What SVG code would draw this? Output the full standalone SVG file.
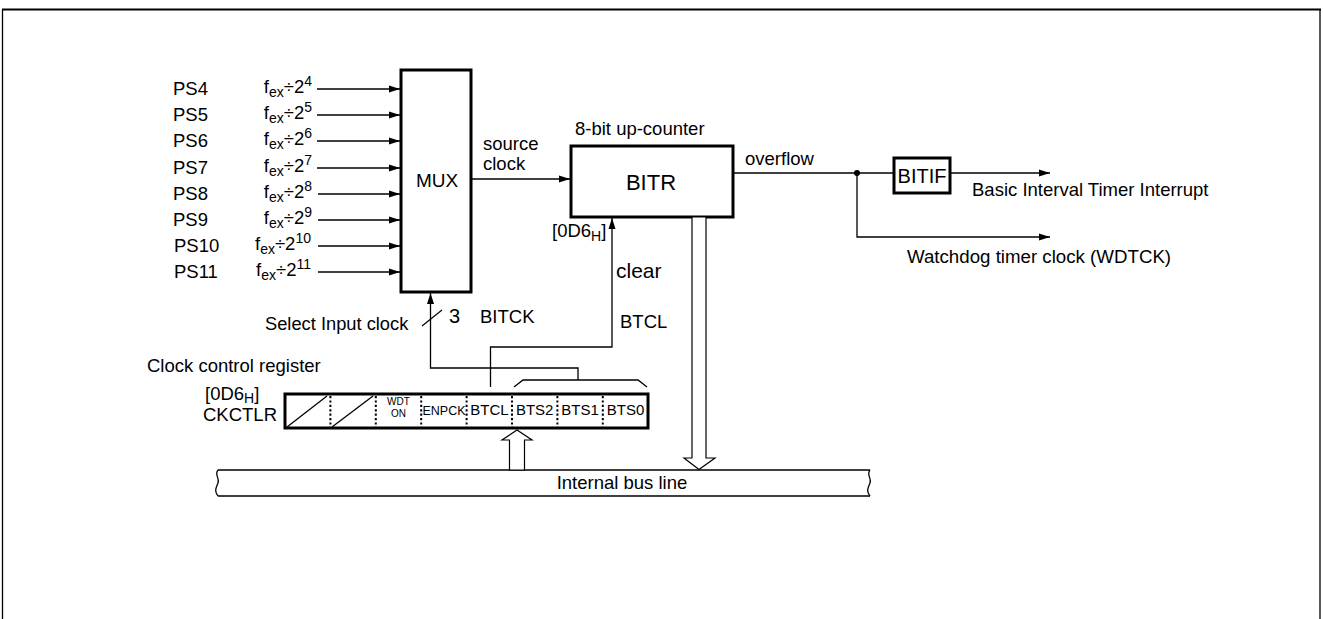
<svg xmlns="http://www.w3.org/2000/svg" width="1323" height="619" viewBox="0 0 1323 619">
<style>
text{font-family:"Liberation Sans",Arial,sans-serif;font-size:18.5px;fill:#000}
.box{fill:#fff;stroke:#000;stroke-width:3}
.ln{fill:none;stroke:#000;stroke-width:1.3}
.arr{fill:none;stroke:#000;stroke-width:1.3;marker-end:url(#ah)}
.hol{fill:#fff;stroke:#000;stroke-width:1.2}
.dot{stroke:#000;stroke-width:2;stroke-dasharray:2.2 2.2}
.sm{font-size:14px}
.reg{font-size:15px;text-anchor:middle}
.tiny{font-size:10px;text-anchor:middle}
</style>
<defs>
<marker id="ah" markerUnits="userSpaceOnUse" markerWidth="11" markerHeight="8" refX="11" refY="4" orient="auto">
<path d="M0,0.5 L11,4 L0,7.5 z" fill="#000"/>
</marker>
</defs>
<rect width="1323" height="619" fill="#fff"/>
<g id="frame">
<path d="M2.5,619 V9.5" class="ln" stroke-width="1"/>
<path d="M1320,619 V9.5" class="ln" stroke-width="1"/>
<path d="M2,9.5 H1321" fill="none" stroke="#000" stroke-width="2"/>
</g>

<g id="inputs">
<text x="173" y="95">PS4</text>
<text x="173" y="121">PS5</text>
<text x="173" y="147">PS6</text>
<text x="173" y="174">PS7</text>
<text x="173" y="200">PS8</text>
<text x="173" y="226">PS9</text>
<text x="174" y="252">PS10</text>
<text x="174" y="278">PS11</text>
<text x="312" y="93" text-anchor="end">f<tspan dy="4" class="sm">ex</tspan><tspan dy="-4">÷2</tspan><tspan dy="-7" class="sm">4</tspan></text>
<text x="312" y="119" text-anchor="end">f<tspan dy="4" class="sm">ex</tspan><tspan dy="-4">÷2</tspan><tspan dy="-7" class="sm">5</tspan></text>
<text x="312" y="145" text-anchor="end">f<tspan dy="4" class="sm">ex</tspan><tspan dy="-4">÷2</tspan><tspan dy="-7" class="sm">6</tspan></text>
<text x="312" y="172" text-anchor="end">f<tspan dy="4" class="sm">ex</tspan><tspan dy="-4">÷2</tspan><tspan dy="-7" class="sm">7</tspan></text>
<text x="312" y="198" text-anchor="end">f<tspan dy="4" class="sm">ex</tspan><tspan dy="-4">÷2</tspan><tspan dy="-7" class="sm">8</tspan></text>
<text x="312" y="224" text-anchor="end">f<tspan dy="4" class="sm">ex</tspan><tspan dy="-4">÷2</tspan><tspan dy="-7" class="sm">9</tspan></text>
<text x="311" y="250" text-anchor="end">f<tspan dy="4" class="sm">ex</tspan><tspan dy="-4">÷2</tspan><tspan dy="-7" class="sm">10</tspan></text>
<text x="311" y="276" text-anchor="end">f<tspan dy="4" class="sm">ex</tspan><tspan dy="-4">÷2</tspan><tspan dy="-7" class="sm">11</tspan></text>
</g>

<g id="mux">
<rect class="box" x="401" y="70" width="70" height="222"/>
<text x="437" y="187" text-anchor="middle" style="font-size:19px">MUX</text>
</g>

<g id="bitr">
<rect class="box" x="571" y="146" width="162" height="71"/>
<text x="651" y="190" text-anchor="middle" style="font-size:22px">BITR</text>
<text x="575" y="135">8-bit up-counter</text>
<text x="552" y="237">[0D6<tspan dy="4" class="sm">H</tspan><tspan dy="-4">]</tspan></text>
</g>

<g id="bitif">
<rect class="box" x="894" y="158" width="56" height="35"/>
<text x="922" y="183" text-anchor="middle" style="font-size:20px">BITIF</text>
</g>

<g id="ckctlr">
<text x="147" y="372">Clock control register</text>
<text x="205" y="400">[0D6<tspan dy="3" class="sm">H</tspan><tspan dy="-3">]</tspan></text>
<text x="203" y="421">CKCTLR</text>
<rect class="box" x="285" y="394" width="363" height="34"/>
<line class="ln" x1="287" y1="427" x2="327" y2="396"/>
<line class="ln" x1="332" y1="427" x2="373" y2="396"/>
<line class="dot" x1="330.4" y1="396" x2="330.4" y2="427"/>
<line class="dot" x1="375.8" y1="396" x2="375.8" y2="427"/>
<line class="dot" x1="421.2" y1="396" x2="421.2" y2="427"/>
<line class="dot" x1="466.6" y1="396" x2="466.6" y2="427"/>
<line class="dot" x1="512" y1="396" x2="512" y2="427"/>
<line class="dot" x1="557.4" y1="396" x2="557.4" y2="427"/>
<line class="dot" x1="602.8" y1="396" x2="602.8" y2="427"/>
<text class="tiny" x="398.5" y="405">WDT</text>
<text class="tiny" x="398.5" y="416.5">ON</text>
<text class="reg" x="444" y="415" style="font-size:13px" textLength="43" lengthAdjust="spacingAndGlyphs">ENPCK</text>
<text class="reg" x="489.5" y="415">BTCL</text>
<text class="reg" x="534.7" y="415">BTS2</text>
<text class="reg" x="580.1" y="415">BTS1</text>
<text class="reg" x="625.5" y="415">BTS0</text>
</g>

<g id="bus">
<path class="ln" d="M218,470 H870"/>
<path class="ln" d="M218,496 H870"/>
<path class="ln" stroke-width="1" d="M218,470 C214,475 220,478 218,483 C216,488 214,491 218,496"/>
<path class="ln" stroke-width="1" d="M870,470 C866,475 872,478 870,483 C868,488 866,491 870,496"/>
<text x="622" y="489" text-anchor="middle">Internal bus line</text>
</g>

<g id="connectors">
<line class="arr" x1="317" y1="89" x2="400" y2="89"/>
<line class="arr" x1="317" y1="115" x2="400" y2="115"/>
<line class="arr" x1="317" y1="141" x2="400" y2="141"/>
<line class="arr" x1="317" y1="168" x2="400" y2="168"/>
<line class="arr" x1="318" y1="194" x2="400" y2="194"/>
<line class="arr" x1="318" y1="220" x2="400" y2="220"/>
<line class="arr" x1="318" y1="246" x2="400" y2="246"/>
<line class="arr" x1="318" y1="272" x2="400" y2="272"/>
<line class="arr" x1="472" y1="179" x2="570" y2="179"/>
<text x="483" y="150">source</text>
<text x="483" y="170">clock</text>
<path class="ln" d="M734,173 H894"/>
<circle cx="857" cy="173" r="3" fill="#000"/>
<text x="745" y="165">overflow</text>
<line class="arr" x1="951" y1="173" x2="1050" y2="173"/>
<text x="972" y="196">Basic Interval Timer Interrupt</text>
<path class="arr" d="M857,173 V237 H1050"/>
<text x="907" y="263" style="font-size:18.7px">Watchdog timer clock (WDTCK)</text>
<path class="arr" d="M490.5,387 V347 H612 V218"/>
<text x="616" y="278" style="font-size:21px">clear</text>
<text x="620" y="328">BTCL</text>
<path class="arr" d="M578,380 V368 H430.5 V293"/>
<line class="ln" x1="422" y1="326" x2="442" y2="310"/>
<text x="449" y="323" style="font-size:20px">3</text>
<text x="480" y="323">BITCK</text>
<text x="265" y="330" style="font-size:18.3px">Select Input clock</text>
<path class="ln" d="M514,387 L523,380 H638 L647,387"/>
<polygon class="hol" points="509.5,470 509.5,440 502,440 517,430 532,440 524.5,440 524.5,470"/>
<polygon class="hol" points="692,217 692,458 684,458 699,469.5 715,458 706,458 706,217"/>
</g>
</svg>
